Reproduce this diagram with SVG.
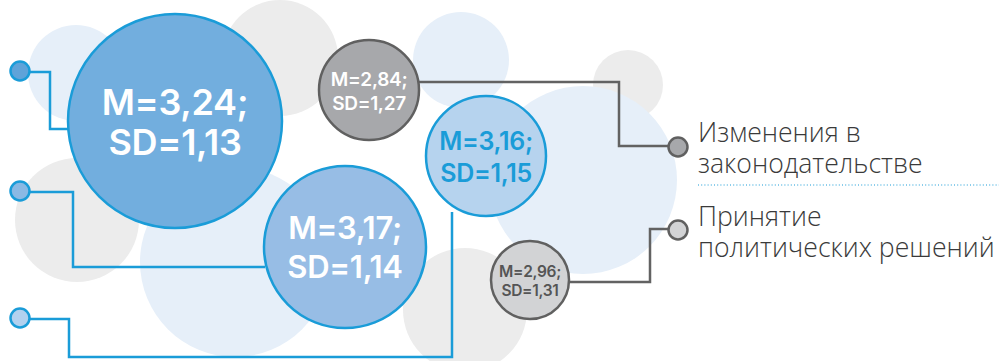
<svg xmlns="http://www.w3.org/2000/svg" width="999" height="361" viewBox="0 0 999 361">
  <style>
    .bg-blue { fill: #e6eff9; }
    .bg-grey { fill: #ececec; }
    .wire-blue { fill: none; stroke: #1a9cd8; stroke-width: 2.5; }
    .wire-grey { fill: none; stroke: #626262; stroke-width: 2.5; }
    .node-blue { stroke: #1a9cd8; stroke-width: 2.5; }
    .node-grey { stroke: #606060; stroke-width: 2.5; }
    .num { font-family: Inter, "Liberation Sans", sans-serif; font-weight: 600; text-anchor: middle; letter-spacing: -0.3px; }
    .label { font-family: "Open Sans", "Liberation Sans", sans-serif; font-weight: 300; font-size: 26.6px; fill: #3a3a3a; }
  </style>

  <!-- soft background bubbles -->
  <g id="background">
    <circle class="bg-grey" cx="280" cy="58" r="58"/>
    <circle class="bg-blue" cx="76" cy="73" r="48"/>
    <circle class="bg-grey" cx="77" cy="220" r="62"/>
    <circle class="bg-blue" cx="235" cy="262" r="95"/>
    <circle class="bg-blue" cx="461" cy="60" r="48"/>
    <circle class="bg-grey" cx="628" cy="85" r="35"/>
    <circle class="bg-grey" cx="465" cy="310" r="62"/>
    <circle class="bg-blue" cx="583" cy="180" r="94"/>
  </g>

  <!-- connectors -->
  <g id="connectors">
    <polyline class="wire-blue" points="29,72 50,72 50,129 68,129"/>
    <polyline class="wire-blue" points="29,192 73,192 73,267 265,267"/>
    <polyline class="wire-blue" points="29,319 69,319 69,357 452,357 452,212"/>
    <polyline class="wire-grey" points="418,82 619,82 619,146 668,146"/>
    <polyline class="wire-grey" points="568,282 650,282 650,229 668,229"/>
    <line x1="698" y1="185" x2="999" y2="185" stroke="#1a9cd8" stroke-width="1.2" stroke-dasharray="1 2.2"/>
  </g>

  <!-- start points on the left -->
  <g id="dot-1"><circle class="node-blue" cx="20" cy="71" r="9.5" fill="#5fa3d9"/></g>
  <g id="dot-2"><circle class="node-blue" cx="20" cy="191" r="9.5" fill="#8ab9e4"/></g>
  <g id="dot-3"><circle class="node-blue" cx="20" cy="318" r="9.5" fill="#b2d1ef"/></g>

  <!-- value bubbles -->
  <g id="node-324">
    <circle class="node-blue" cx="175" cy="121" r="107" fill="#72aede"/>
    <text class="num" x="175" y="115" font-size="36" fill="#ffffff">M=3,24;</text>
    <text class="num" x="175" y="155" font-size="36" fill="#ffffff">SD=1,13</text>
  </g>
  <g id="node-317">
    <circle class="node-blue" cx="345" cy="247" r="81" fill="#97bde5"/>
    <text class="num" x="345" y="239" font-size="31" fill="#ffffff">M=3,17;</text>
    <text class="num" x="345" y="278" font-size="31" fill="#ffffff">SD=1,14</text>
  </g>
  <g id="node-316">
    <circle class="node-blue" cx="486" cy="156" r="60" fill="#b6d3ee"/>
    <text class="num" x="486" y="150" font-size="25" fill="#1a9cd8">M=3,16;</text>
    <text class="num" x="486" y="182" font-size="25" fill="#1a9cd8">SD=1,15</text>
  </g>
  <g id="node-284">
    <circle class="node-grey" cx="369" cy="90" r="50" fill="#a7a8ab"/>
    <text class="num" x="369" y="86" font-size="19" fill="#ffffff">M=2,84;</text>
    <text class="num" x="369" y="110" font-size="19" fill="#ffffff">SD=1,27</text>
  </g>
  <g id="node-296">
    <circle class="node-grey" cx="530" cy="280" r="39" fill="#d2d3d5"/>
    <text class="num" x="530" y="277" font-size="15.5" fill="#555555">M=2,96;</text>
    <text class="num" x="530" y="296" font-size="15.5" fill="#555555">SD=1,31</text>
  </g>

  <!-- end points with their labels -->
  <g id="legislation">
    <circle class="node-grey" cx="678" cy="147" r="9.5" fill="#a7a8ab"/>
    <text class="label" x="698" y="142">Изменения в</text>
    <text class="label" x="698" y="173">законодательстве</text>
  </g>
  <g id="policy">
    <circle class="node-grey" cx="678" cy="230" r="9.5" fill="#d2d3d5"/>
    <text class="label" x="698" y="226">Принятие</text>
    <text class="label" x="698" y="257">политических решений</text>
  </g>
</svg>
